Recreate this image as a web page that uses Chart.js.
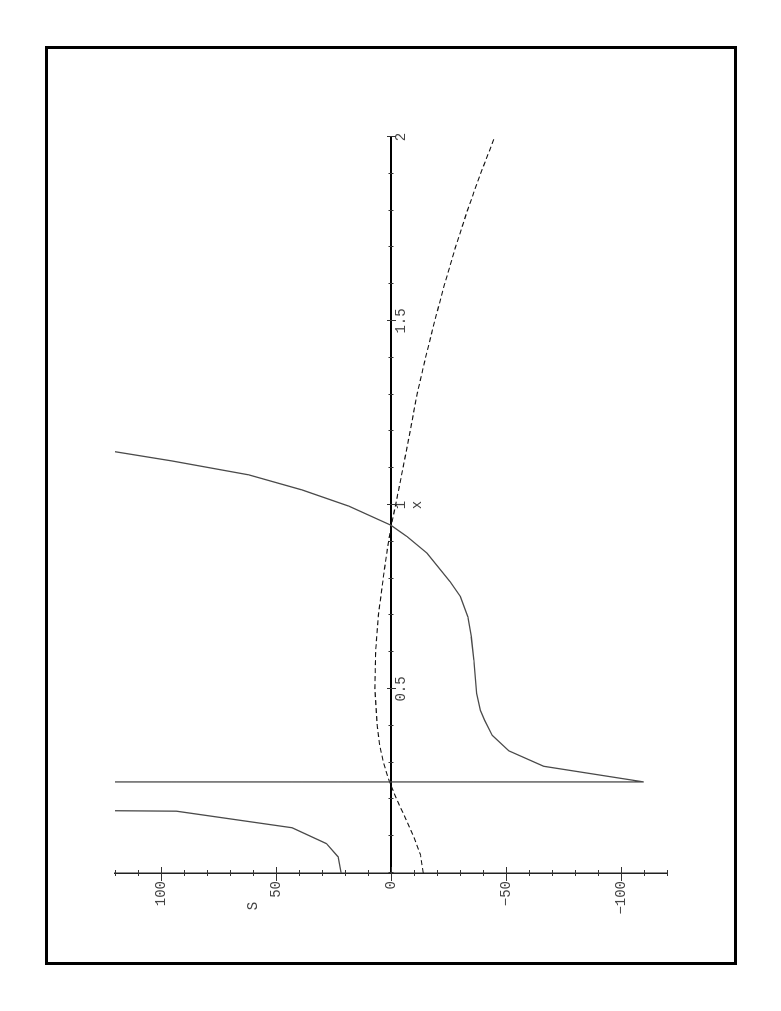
<!DOCTYPE html>
<html lang="en">
<head>
  <meta charset="UTF-8">
  <title>S against x</title>
  <script src="https://cdn.jsdelivr.net/npm/chart.js@4.4.0/dist/chart.umd.min.js"></script>
  <style>
    html, body { margin: 0; padding: 0; background: #fff; }
    body { width: 781px; height: 1011px; position: relative; overflow: hidden; }
    .frame {
      position: absolute; left: 45px; top: 46px; width: 692px; height: 919px;
      border: 3px solid #000; box-sizing: border-box;
    }
    /* the plot is printed landscape, so the whole chart is turned a quarter left */
    .turn {
      position: absolute; left: 0; top: 0; width: 917px; height: 688px;
      transform-origin: 0 0; transform: translate(47px, 964px) rotate(-90deg);
    }
  </style>
</head>
<body>
  <div class="frame"></div>
  <div class="turn"><canvas id="plot" width="917" height="688" style="width:917px;height:688px"></canvas></div>
  <script>
    // solid curve (jumps through a pole near x = 0.247)
    const solidX = [0, 0.044, 0.080, 0.123, 0.168, 0.205, 0.246, 0.2475, 0.290, 0.332, 0.374, 0.415,
                    0.442, 0.488, 0.578, 0.642, 0.696, 0.751, 0.791, 0.869, 0.914, 0.945, 0.997,
                    1.041, 1.082, 1.120, 1.160];
    const solidS = [21.7, 23.0, 28.1, 43.0, 93.3, 900, 8000, -109.9, -66.4, -51.2, -44.0, -40.7,
                    -38.9, -37.2, -36.0, -34.9, -33.4, -30.2, -25.8, -15.7, -7.0, 0, 18.4,
                    38.7, 61.9, 95.5, 135];

    // dashed curve
    const dashX = [0, 0.05, 0.1, 0.15, 0.2, 0.25, 0.3, 0.35, 0.4, 0.5, 0.6, 0.7, 0.8, 0.85, 0.9,
                   0.95, 1.0, 1.1, 1.2, 1.3, 1.4, 1.5, 1.6, 1.7, 1.8, 1.9, 2.0];
    const dashS = [-14.0, -12.8, -9.8, -6.2, -2.5, 0.8, 3.3, 5.0, 6.0, 7.0, 6.7, 5.5, 3.4, 2.3, 1.1,
                   -0.3, -2.0, -5.2, -8.3, -11.3, -15.0, -19.0, -23.3, -28.0, -33.2, -38.9, -45.1];

    const xTickLabels = ['0.5', '1', '1.5', '2'];
    const sTickLabels = ['100', '50', '0', '-50', '-100'];

    const labelFont = { family: '"Liberation Mono", "DejaVu Sans Mono", monospace', size: 14 };
    const xLabel = v => String(Math.round(v * 10) / 10);
    const sLabel = v => String(Math.round(v));
    const minus = s => s.replace('-', '\u2212');

    // Maple style tick marks crossing the axes, plus the two axis names
    const axisMarks = {
      id: 'axisMarks',
      afterDraw(chart) {
        const { ctx, scales: { x, y } } = chart;
        const y0 = y.getPixelForValue(0);
        const x0 = x.getPixelForValue(0);
        ctx.save();
        ctx.strokeStyle = '#333';
        ctx.lineWidth = 1;
        ctx.beginPath();
        x.ticks.forEach(t => {
          const px = Math.round(x.getPixelForValue(t.value)) + 0.5;
          const major = xTickLabels.includes(xLabel(t.value));
          ctx.moveTo(px, y0 - (major ? 4 : 2.5));
          ctx.lineTo(px, y0 + (major ? 5 : 2.5));
        });
        y.ticks.forEach(t => {
          const py = Math.round(y.getPixelForValue(t.value)) + 0.5;
          const major = sTickLabels.includes(sLabel(t.value));
          ctx.moveTo(x0 - (major ? 8 : 3), py);
          ctx.lineTo(x0 + (major ? 6 : 3), py);
        });
        ctx.stroke();

        ctx.fillStyle = '#444';
        ctx.font = '14px ' + labelFont.family;
        ctx.textAlign = 'center';
        ctx.textBaseline = 'middle';
        ctx.fillText('x', x.getPixelForValue(1), y0 + 26);
        ctx.fillText('S', x0 - 33, y.getPixelForValue(60));
        ctx.restore();
      }
    };

    new Chart(document.getElementById('plot'), {
      type: 'scatter',
      data: {
        datasets: [
          {
            data: solidX.map((v, i) => ({ x: v, y: solidS[i] })),
            showLine: true, pointRadius: 0,
            borderColor: '#4a4a4a', borderWidth: 1.3
          },
          {
            data: dashX.map((v, i) => ({ x: v, y: dashS[i] })),
            showLine: true, pointRadius: 0,
            borderColor: '#111', borderWidth: 1.1, borderDash: [5, 3]
          }
        ]
      },
      options: {
        responsive: false,
        animation: false,
        devicePixelRatio: 1,
        layout: { padding: { left: 0, top: 68, right: 90, bottom: 68 } },
        plugins: { legend: { display: false }, tooltip: { enabled: false } },
        scales: {
          x: {
            type: 'linear', min: 0, max: 2,
            position: { y: 0 },
            border: { display: true, color: '#000', width: 2 },
            grid: { display: true, drawOnChartArea: false, drawTicks: false },
            ticks: {
              stepSize: 0.1, autoSkip: false, maxRotation: 0, padding: 2,
              color: '#444', font: labelFont,
              callback: v => (xTickLabels.includes(xLabel(v)) ? xLabel(v) : '')
            }
          },
          y: {
            type: 'linear', min: -120, max: 120,
            position: 'left',
            afterFit: s => { s.width = 91; },
            border: { display: true, color: '#222', width: 1.5 },
            grid: { display: true, drawOnChartArea: false, drawTicks: false },
            ticks: {
              stepSize: 10, autoSkip: false, padding: 8,
              color: '#444', font: labelFont,
              callback: v => (sTickLabels.includes(sLabel(v)) ? minus(sLabel(v)) : '')
            }
          }
        }
      },
      plugins: [axisMarks]
    });
  </script>
</body>
</html>
